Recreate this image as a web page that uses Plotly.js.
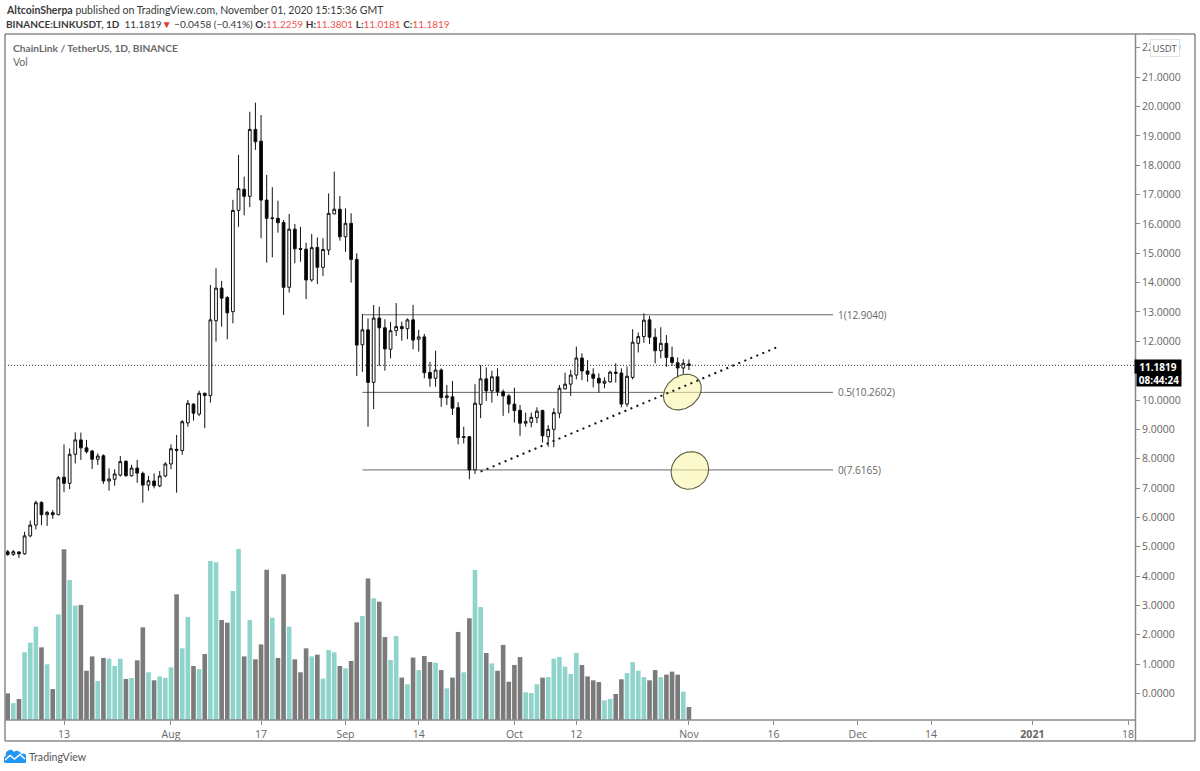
<!DOCTYPE html>
<html><head><meta charset="utf-8">
<script src="https://cdn.plot.ly/plotly-3.0.1.min.js"></script>
<style>html,body{margin:0;padding:0;background:#fff}#c{width:1200px;height:771px}</style>
</head><body><div id="c"></div>
<script>
const firstDay = '2020-07-03';
const opens = [4.83,4.74,4.82,4.76,5.37,5.74,6.51,6.09,6.16,6.09,7.37,7.16,8.15,8.64,8.37,8.26,7.98,8.10,7.24,7.30,7.44,7.91,7.42,7.68,7.50,7.10,7.24,7.07,7.41,7.82,8.32,8.28,9.22,9.86,9.52,10.23,10.15,12.70,13.81,13.49,13.01,16.46,17.18,16.94,19.22,18.82,16.81,16.18,16.19,16.05,13.84,15.82,15.16,15.14,14.09,15.20,14.52,15.11,16.34,16.50,15.56,16.02,14.79,11.88,12.39,10.60,12.79,12.46,11.73,12.36,12.50,12.43,12.73,12.07,12.15,10.94,10.74,11.02,10.08,10.11,9.74,8.72,8.75,7.62,9.85,10.72,10.31,10.79,10.28,10.14,9.86,9.65,9.21,9.24,9.40,9.64,8.75,9.00,9.55,10.38,10.54,10.85,11.43,10.99,10.88,10.74,10.57,10.62,10.95,10.92,9.86,10.77,11.93,12.16,12.73,12.14,11.68,11.93,11.45,11.27,11.09,11.2259];
const highs = [4.89,4.89,4.85,5.51,5.89,6.57,6.55,6.22,6.25,7.41,8.49,8.35,8.90,8.89,8.64,8.30,8.18,8.15,7.67,7.64,8.09,7.95,7.79,7.96,7.56,7.41,7.50,7.58,7.88,8.49,8.81,9.32,10.00,9.89,10.32,10.25,13.92,14.49,14.06,13.54,16.82,18.35,17.61,19.82,20.13,19.71,17.67,17.25,16.79,16.13,16.34,16.00,15.90,15.36,15.66,15.54,15.51,17.04,17.78,16.95,16.53,16.36,15.00,12.93,12.78,13.24,13.18,12.75,12.66,13.30,12.67,12.78,13.24,12.39,12.25,11.30,11.68,11.08,10.51,10.65,9.92,9.09,8.77,10.54,11.19,11.11,11.00,11.08,10.36,10.20,10.42,9.83,9.57,9.57,9.75,9.67,9.15,9.72,10.51,10.93,11.03,11.82,11.59,11.36,11.08,10.91,10.77,11.00,11.25,11.08,11.14,12.41,12.30,12.95,12.86,12.44,12.48,12.21,11.82,11.45,11.39,11.3801];
const lows = [4.69,4.69,4.62,4.73,5.32,5.59,5.74,5.71,5.95,6.08,6.86,6.96,7.84,7.96,8.18,7.65,7.79,7.14,6.91,7.08,7.39,7.39,7.39,7.18,6.50,6.91,6.99,7.03,7.37,7.64,6.84,8.13,9.09,9.30,9.45,9.04,9.91,11.99,12.50,12.07,12.61,15.90,16.29,16.57,18.52,15.51,14.68,14.86,15.70,12.90,13.66,14.66,14.71,13.44,14.03,13.95,14.22,14.94,16.34,15.43,15.05,14.00,10.82,10.96,9.09,9.69,11.16,11.00,11.42,12.18,12.02,12.07,11.73,11.65,10.74,10.45,10.45,9.77,9.83,9.49,8.49,8.52,7.30,7.48,9.38,9.97,9.91,10.14,9.46,9.55,9.23,8.78,9.09,9.07,9.21,8.55,8.41,8.39,9.38,10.36,10.14,10.70,10.68,10.62,10.43,10.25,10.40,10.59,10.59,9.75,9.77,10.70,11.62,11.95,11.91,11.25,11.42,11.13,11.16,10.74,10.89,11.0181];
const closes = [4.74,4.83,4.76,5.37,5.74,6.50,6.09,6.17,6.09,7.35,7.16,8.15,8.64,8.37,8.24,7.98,8.09,7.24,7.31,7.48,7.90,7.42,7.68,7.51,7.10,7.25,7.08,7.41,7.82,8.34,8.28,9.26,9.89,9.55,10.23,10.15,12.73,13.81,13.47,12.97,16.46,17.20,16.94,19.22,18.80,16.81,16.19,16.20,16.04,13.84,15.82,15.15,15.13,14.09,15.19,14.52,15.13,16.36,16.50,15.56,16.02,14.79,11.87,12.39,10.60,12.79,12.46,11.74,12.36,12.50,12.43,12.73,12.04,12.15,10.93,10.74,11.02,10.08,10.14,9.72,8.72,8.75,7.62,9.89,10.72,10.31,10.79,10.28,10.14,9.86,9.64,9.21,9.27,9.41,9.62,8.78,9.00,9.57,10.40,10.54,10.85,11.43,10.99,10.88,10.74,10.58,10.64,10.95,10.91,9.86,10.81,11.97,12.16,12.72,12.14,11.68,11.93,11.45,11.28,11.09,11.25,11.1819];
const volumes = [1.56,0.99,1.23,3.96,4.52,5.46,4.25,3.26,1.81,6.18,9.98,8.19,6.69,6.73,2.88,3.72,2.28,3.63,3.59,3.16,3.59,2.40,2.46,3.49,5.42,2.79,2.32,2.55,2.46,3.08,7.35,4.19,6.02,3.16,2.98,3.86,9.30,9.22,5.85,5.69,7.54,10.0,3.72,5.85,3.55,4.42,8.79,5.98,3.63,8.52,5.46,3.55,2.79,4.19,3.72,3.82,2.42,4.09,3.96,3.16,3.02,3.45,5.71,6.08,8.28,7.12,6.92,4.85,3.51,4.91,2.48,2.09,3.65,2.92,3.74,3.39,3.35,2.92,1.85,2.48,5.15,2.79,5.95,8.77,6.61,3.92,3.31,2.88,4.39,2.24,3.22,3.68,1.62,1.58,2.09,2.48,2.51,3.59,3.68,3.12,2.69,3.92,3.22,2.55,2.32,2.22,1.15,1.23,1.52,2.38,2.75,3.39,2.88,2.51,2.32,2.92,2.51,2.65,2.83,2.65,1.66,0.76];
const priceTicks = [0,1,2,3,4,5,6,7,8,9,10,12,13,14,15,16,17,18,19,20,21,22];
const timeTickDates = ['2020-07-13','2020-08-01','2020-08-17','2020-09-01','2020-09-14','2020-10-01','2020-10-12','2020-11-01','2020-11-16','2020-12-01','2020-12-14','2021-01-01','2021-01-18'];
const timeTickLabels = ['13','Aug','17','Sep','14','Oct','12','Nov','16','Dec','14','<b>2021</b>','18'];
const fibLevels = [12.9040,10.2602,7.6165];
const fibLabels = ['1(12.9040)','0.5(10.2602)','0(7.6165)'];
const fibStart = '2020-09-04';
const fibEnd = '2020-11-26 14:00';
const trendDates = ['2020-09-25 00:00','2020-11-17 04:00'];
const trendPrices = [7.56,11.84];
const lastPrice = 11.1819;

const W=1200,H=771,L=5,R=1135,T=35,B=720;
const xStart='2020-07-02 12:30', xEnd='2021-01-19 05:30';
const yMin=-0.903, yMax=22.436;
const px=x=>(x-L)/(R-L), py=y=>(B-y)/(B-T);
const dayMs=864e5;
const dates=opens.map((_,i)=>new Date(Date.parse(firstDay+'T00:00:00Z')+i*dayMs).toISOString().slice(0,10));
const up=opens.map((o,i)=>closes[i]>=o);
const pxPerDay=(R-L)/((Date.parse(xEnd.replace(' ','T')+'Z')-Date.parse(xStart.replace(' ','T')+'Z'))/dayMs);
const pxPerPrice=(B-T)/(yMax-yMin);
function ellipse(cDate,cPrice,a,b,deg){
  const xs=[],ys=[],t0=Date.parse(cDate.replace(' ','T')+'Z'),r=deg*Math.PI/180;
  for(let k=0;k<=72;k++){const u=k/72*2*Math.PI,ex=a*Math.cos(u),ey=b*Math.sin(u);
    const dx=ex*Math.cos(r)-ey*Math.sin(r),dy=ex*Math.sin(r)+ey*Math.cos(r);
    xs.push(new Date(t0+dx/pxPerDay*dayMs).toISOString());ys.push(cPrice+dy/pxPerPrice);}
  return {x:xs,y:ys};
}
const e1=ellipse('2020-10-30 20:00',10.27,20.5,16,38), e2=ellipse('2020-11-01 04:00',7.60,19.5,18,45);
const eStyle={type:'scatter',mode:'lines',yaxis:'y2',fill:'toself',fillcolor:'rgba(250,245,170,0.6)',line:{color:'#5f5f42',width:1.1},hoverinfo:'skip',showlegend:false};
const traces=[
 {type:'bar',x:dates,y:volumes,yaxis:'y',marker:{color:up.map(u=>u?'#8fd4cb':'#7b7b7b'),line:{width:0}},hoverinfo:'skip',showlegend:false},
 {type:'candlestick',x:dates,open:opens,high:highs,low:lows,close:closes,yaxis:'y2',width:0.68*dayMs,whiskerwidth:0,
  increasing:{line:{color:'#111',width:1},fillcolor:'#ffffff'},decreasing:{line:{color:'#111',width:1},fillcolor:'#000000'},hoverinfo:'skip',showlegend:false},
 Object.assign({},eStyle,e1),Object.assign({},eStyle,e2),
 {type:'scatter',mode:'lines',x:trendDates,y:trendPrices,yaxis:'y2',line:{color:'#111',width:2,dash:'2px,4.5px'},hoverinfo:'skip',showlegend:false}
];
const GR='#8a8a8a',TX='#666666',F='"Open Sans", sans-serif',F2='Lato, sans-serif';
const frame=(x0,y0,x1,y1,c,w)=>({type:'line',xref:'paper',yref:'paper',x0:px(x0),x1:px(x1),y0:py(y0),y1:py(y1),line:{color:c||GR,width:w||1.5},layer:'above'});
const shapes=[
 frame(5,34,1195,34),frame(5,34,5,741),frame(1195,34,1195,741),frame(5,741,1195,741),frame(1135.5,34,1135.5,741),frame(5,720,1135.5,720),
 {type:'line',xref:'paper',yref:'y2',x0:0,x1:1,y0:lastPrice,y1:lastPrice,line:{color:'#222',width:1,dash:'1px,2px'},layer:'below'},
 ...fibLevels.map(v=>({type:'line',xref:'x',yref:'y2',x0:fibStart,x1:fibEnd,y0:v,y1:v,line:{color:'#666',width:1},layer:'below'}))
];
const pa=(x,y,text,o)=>Object.assign({xref:'paper',yref:'paper',x:px(x),y:py(y),text,showarrow:false,xanchor:'left',yanchor:'middle',align:'left',font:{family:F2,size:11,color:'#333'}},o||{});
const RED='#ef5350';
const annotations=[
 pa(3.5,9.5,'<b>AltcoinSherpa</b> published on TradingView.com, November 01, 2020 15:15:36 GMT',{font:{family:F2,size:10.5,color:'#3a3a3a'}}),
 pa(3.5,24,'<b>BINANCE:LINKUSDT, 1D</b>  11.1819<span style="color:#e53935">▼</span> −0.0458 (−0.41%) <b>O:</b><span style="color:'+RED+'">11.2259</span> <b>H:</b><span style="color:'+RED+'">11.3801</span> <b>L:</b><span style="color:'+RED+'">11.0181</span> <b>C:</b><span style="color:'+RED+'">11.1819</span>',{font:{family:F2,size:10,color:'#3a3a3a'}}),
 pa(10.5,48,'<b>ChainLink / TetherUS, 1D, BINANCE</b>',{font:{family:F2,size:10.2,color:'#6a6a6a'}}),
 pa(10.5,62,'Vol',{font:{family:F2,size:10.5,color:'#6a6a6a'}}),
 pa(26.5,757,'TradingView',{font:{family:F2,size:10.6,color:'#555'}}),
 pa(1164.5,47.5,'USDT',{xanchor:'center',font:{family:F,size:9.5,color:'#555'},bgcolor:'#ffffff',bordercolor:'#dfe1ea',borderwidth:1,borderpad:1.5}),
 pa(1158,366,'<b>'+lastPrice.toFixed(4)+'</b>',{xanchor:'center',font:{family:F,size:10,color:'#fff'},bgcolor:'#000',width:44,height:11,align:'center'}),
 pa(1159,380,'<b>08:44:24</b>',{xanchor:'center',font:{family:F,size:10,color:'#fff'},bgcolor:'#000',width:42,height:11,align:'center'}),
 ...fibLevels.map((v,i)=>({xref:'x',yref:'y2',x:fibEnd,y:v,text:fibLabels[i],showarrow:false,xanchor:'left',yanchor:'middle',xshift:3,font:{family:F,size:10,color:TX}}))
];
const logo='data:image/svg+xml;utf8,'+encodeURIComponent('<svg xmlns="http://www.w3.org/2000/svg" width="22" height="14" viewBox="0 0 22 14"><path d="M1 14 A4 4 0 0 1 2 7 A4.5 4.5 0 0 1 10 3 A4.2 4.2 0 0 1 17 5 A4.6 4.6 0 0 1 21 14 Z" fill="#2196f3"/><path d="M1 11 L6 6.5 L10.5 10 L16 5.5 L21 10" fill="none" stroke="#fff" stroke-width="1.4"/></svg>');
const layout={
 width:W,height:H,margin:{l:L,r:W-R,t:T,b:H-B,pad:0},paper_bgcolor:'#fff',plot_bgcolor:'#fff',showlegend:false,
 font:{family:F,size:10.5,color:TX},bargap:0.18,hovermode:false,dragmode:false,
 xaxis:{type:'date',range:[xStart,xEnd],rangeslider:{visible:false},showgrid:false,zeroline:false,showline:false,
   tickmode:'array',tickvals:timeTickDates,ticktext:timeTickLabels,ticks:'outside',ticklen:4,tickcolor:GR,tickfont:{family:F,size:10.5,color:TX}},
 yaxis:{domain:[0,1],range:[0,40.06],visible:false,fixedrange:true},
 yaxis2:{overlaying:'y',side:'right',anchor:'x',range:[yMin,yMax],showgrid:false,zeroline:false,showline:false,
   tickmode:'array',tickvals:priceTicks,ticktext:priceTicks.map(v=>v.toFixed(4)),ticks:'outside',ticklen:4,tickcolor:GR,tickfont:{family:F,size:10.5,color:TX}},
 shapes,annotations,
 images:[{source:logo,xref:'paper',yref:'paper',x:px(4),y:py(749),sizex:22/(R-L),sizey:14/(B-T),xanchor:'left',yanchor:'top',layer:'above'}]
};
Plotly.newPlot('c',traces,layout,{displayModeBar:false,staticPlot:true});
</script></body></html>
